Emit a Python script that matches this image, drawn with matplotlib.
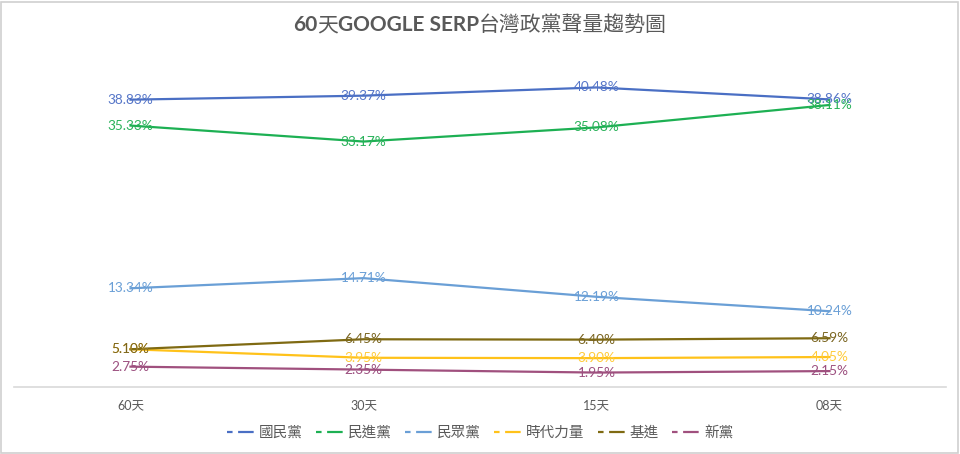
import matplotlib
matplotlib.use("Agg")
import matplotlib.pyplot as plt
from matplotlib.lines import Line2D
from matplotlib.patches import Rectangle

plt.rcParams['font.family'] = ['Lato', 'Noto Sans CJK TC', 'DejaVu Sans']

categories = ["60天", "30天", "15天", "08天"]
parties = ["國民黨", "民進黨", "民眾黨", "時代力量", "基進", "新黨"]
kmt = [38.83, 39.37, 40.48, 38.86]
dpp = [35.33, 33.17, 35.08, 38.11]
tpp = [13.34, 14.71, 12.19, 10.24]
npp = [5.10, 3.95, 3.90, 4.05]
tsp = [5.10, 6.45, 6.40, 6.59]
np_ = [2.75, 2.35, 1.95, 2.15]
series = [kmt, dpp, tpp, npp, tsp, np_]
colors = ["#4A6FC4", "#1DB053", "#6A9FD6", "#FFC21A", "#7F6A12", "#A0507E"]
label_colors = ["#5676C8", "#2AB25A", "#6A9FD6", "#FFCB3A", "#7A6520", "#9C5080"]

W, H = 960, 454
fig = plt.figure(figsize=(W/100, H/100), dpi=100)
fig.patches.append(Rectangle((1/W, 1/H), (W-3)/W, (H-3)/H, transform=fig.transFigure,
                             fill=False, edgecolor="#D0D0D0", linewidth=1.2))

ax = fig.add_axes([14/W, 67/H, 932/W, 333/H])
x = list(range(len(categories)))
for vals, c, lc in zip(series, colors, label_colors):
    ax.plot(x, vals, color=c, linewidth=1.6, zorder=2)
    for xi, v in zip(x, vals):
        ax.text(xi, v, f"{v:.2f}%", color=lc, fontsize=9.8, ha="center", va="center", zorder=3)

ax.set_xlim(-0.5, 3.5)
ax.set_ylim(0, 45)
ax.set_xticks(x)
ax.set_xticklabels(categories, fontsize=9, color="#595959")
ax.tick_params(axis="x", length=0, pad=9)
ax.set_yticks([])
for s in ["top", "right", "left"]:
    ax.spines[s].set_visible(False)
ax.spines["bottom"].set_color("#D9D9D9")
ax.spines["bottom"].set_linewidth(1.2)

# Title: Latin parts bold, CJK parts regular
renderer = fig.canvas.get_renderer()
parts = [("60", "bold"), ("天", "normal"), ("GOOGLE SERP", "bold"), ("台灣政黨聲量趨勢圖", "normal")]
texts = []
for s, wgt in parts:
    t = fig.text(0, 1 - 25/H, s, ha="left", va="center", fontsize=15,
                 fontweight=wgt, color="#595959")
    texts.append(t)
widths = [t.get_window_extent(renderer).width for t in texts]
pos = (W - sum(widths)) / 2
for t, w in zip(texts, widths):
    t.set_x(pos / W)
    pos += w

handles = [Line2D([0], [0], color=c, linewidth=1.6, linestyle=(0, (2.5, 2.5, 7, 100)))
           for c in colors]
fig.legend(handles, parties, loc="center", bbox_to_anchor=(0.5, 1 - 433/H), ncol=6,
           frameon=False, fontsize=10.5, handlelength=2.0, handletextpad=0.2,
           columnspacing=0.9, labelcolor="#595959")

fig.savefig("out.png", dpi=100)
